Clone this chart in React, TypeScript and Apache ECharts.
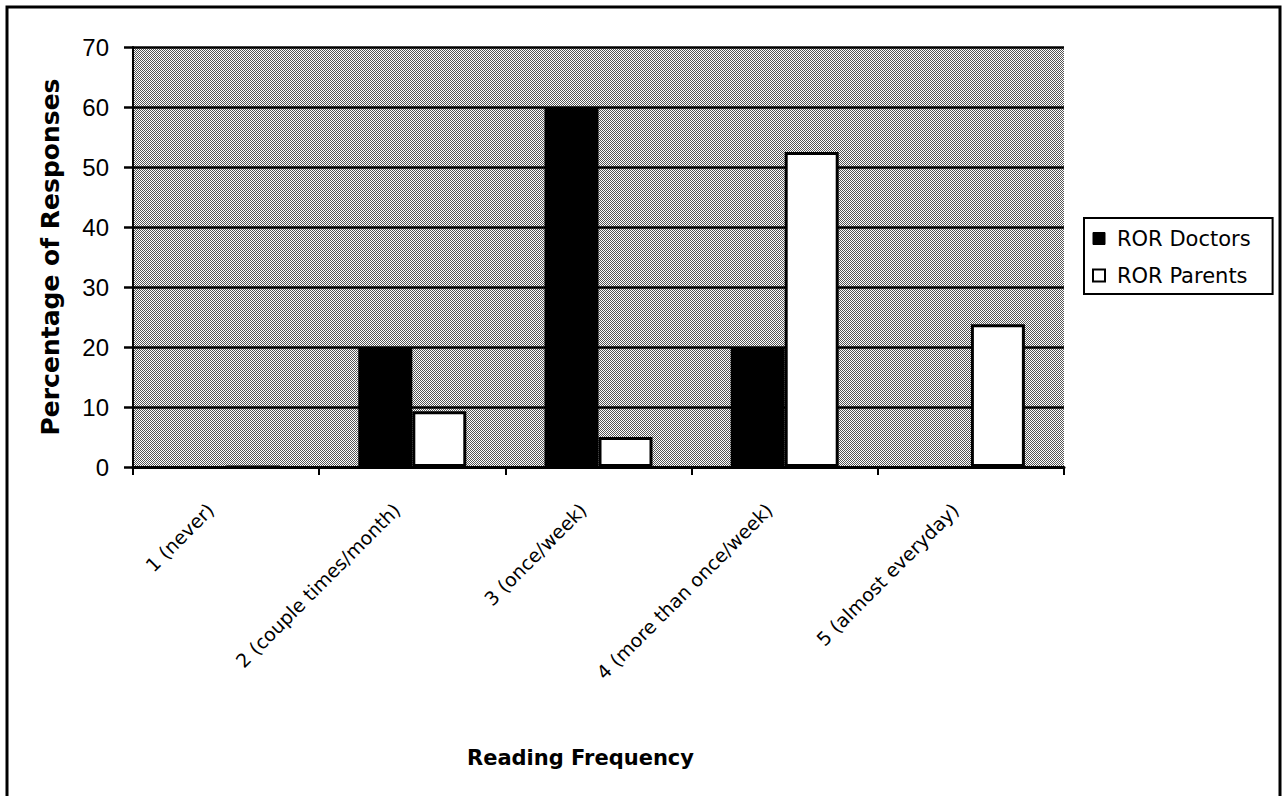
import React, { useEffect, useRef } from "react";
import * as echarts from "echarts";

const categories = [
  "1 (never)",
  "2 (couple times/month)",
  "3 (once/week)",
  "4 (more than once/week)",
  "5 (almost everyday)",
];
const doctors = [0, 20, 60, 20, 0];
const parents = [0, 9.3, 5, 52.5, 23.8];
const yTicks = { min: 0, max: 70, interval: 10 };

function makePattern(): HTMLCanvasElement {
  const c = document.createElement("canvas");
  c.width = 4;
  c.height = 4;
  const ctx = c.getContext("2d")!;
  ctx.fillStyle = "#ffffff";
  ctx.fillRect(0, 0, 4, 4);
  ctx.fillStyle = "#555555";
  for (let x = 0; x < 4; x++) {
    for (let y = 0; y < 4; y++) {
      if ((x + y) % 2 === 0) ctx.fillRect(x, y, 1, 1);
    }
  }
  return c;
}

export default function App() {
  const ref = useRef<HTMLDivElement>(null);
  useEffect(() => {
    document.body.style.margin = "0";
    const chart = echarts.init(ref.current!, null, { renderer: "svg" });
    const font = "Liberation Sans, Arial, sans-serif";
    const dfont = "DejaVu Sans, Verdana, sans-serif";
    chart.setOption({
      animation: false,
      backgroundColor: "#ffffff",
      textStyle: { fontFamily: font },
      grid: {
        left: 133,
        top: 47,
        right: 222,
        bottom: 329,
        show: true,
        backgroundColor: { image: makePattern(), repeat: "repeat" },
        borderWidth: 0,
      },
      legend: {
        left: 1084,
        top: 218,
        orient: "vertical",
        itemWidth: 12,
        itemHeight: 12,
        itemGap: 16,
        padding: [10, 22, 8, 8],
        borderColor: "#000",
        borderWidth: 2,
        textStyle: { fontSize: 21, color: "#000", fontFamily: dfont, padding: [0, 0, 0, 7] },
        data: [
          { name: "ROR Doctors", icon: "rect", itemStyle: { color: "#000", borderColor: "#000", borderWidth: 1 } },
          { name: "ROR Parents", icon: "rect", itemStyle: { color: "#fff", borderColor: "#000", borderWidth: 2 } },
        ],
      },
      xAxis: {
        type: "category",
        data: categories,
        name: "Reading Frequency",
        nameLocation: "middle",
        nameGap: 280,
        nameTextStyle: {
          fontSize: 21,
          fontWeight: "bold",
          color: "#000",
          fontFamily: dfont,
          padding: [0, 36, 0, 0],
        },
        axisLine: { lineStyle: { color: "#000", width: 3 } },
        axisTick: { show: true, length: 8, lineStyle: { color: "#000", width: 2 } },
        axisLabel: {
          rotate: 45,
          fontSize: 19,
          color: "#000",
          margin: 24,
          fontFamily: dfont,
          padding: [0, 22, 0, 0],
        },
      },
      yAxis: {
        type: "value",
        min: yTicks.min,
        max: yTicks.max,
        interval: yTicks.interval,
        name: "Percentage of Responses",
        nameLocation: "middle",
        nameGap: 70,
        nameTextStyle: { fontSize: 25, fontWeight: "bold", color: "#000", fontFamily: dfont },
        axisLine: { show: true, lineStyle: { color: "#000", width: 2 } },
        axisTick: { show: true, length: 9, lineStyle: { color: "#000", width: 2.5 } },
        axisLabel: { fontSize: 24, color: "#000", margin: 24, fontFamily: font },
        splitLine: { show: true, lineStyle: { color: "#000", width: 2.5 } },
      },
      series: [
        {
          name: "ROR Doctors",
          type: "bar",
          data: doctors,
          barGap: "0%",
          barWidth: 54,
          itemStyle: { color: "#000", borderColor: "#000", borderWidth: 2 },
        },
        {
          name: "ROR Parents",
          type: "bar",
          data: parents,
          barWidth: 54,
          itemStyle: { color: "#fff", borderColor: "#000", borderWidth: 3 },
        },
      ],
      graphic: [
        {
          type: "rect",
          shape: { x: 7, y: 7, width: 1273, height: 800 },
          style: { fill: "none", stroke: "#000", lineWidth: 3 },
          silent: true,
        },
      ],
    });
    return () => chart.dispose();
  }, []);
  return <div ref={ref} style={{ width: 1286, height: 796 }} />;
}
